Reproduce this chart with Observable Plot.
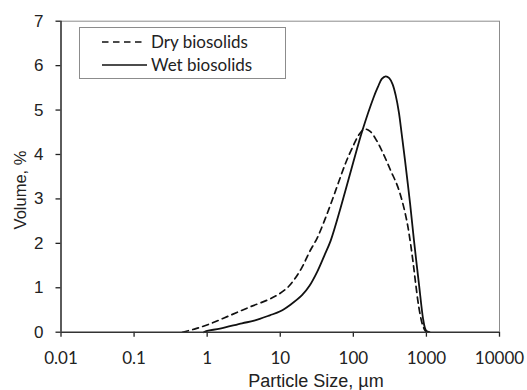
<!DOCTYPE html>
<html>
<head>
<meta charset="utf-8">
<script src="https://cdn.jsdelivr.net/npm/d3@7"></script>
<script src="https://cdn.jsdelivr.net/npm/@observablehq/plot@0.6"></script>
<style>
  html, body { margin: 0; padding: 0; background: #fff; }
  #chart svg { display: block; background: #fff; }
</style>
</head>
<body>
<div id="chart"></div>
<script>
// Particle size (µm) and volume (%)
const drySize = [0.46, 0.7, 1.1, 1.7, 2.6, 4, 6.6, 9, 12.5, 15.8, 20, 25, 32, 40, 50, 63, 79, 100, 120, 143, 170, 209, 260, 324, 400, 468, 540, 596, 660, 712, 790, 880, 950, 1000];
const dryVol  = [0, 0.08, 0.19, 0.32, 0.45, 0.58, 0.72, 0.83, 1.0, 1.2, 1.47, 1.8, 2.12, 2.5, 2.92, 3.38, 3.82, 4.2, 4.45, 4.57, 4.52, 4.31, 4.0, 3.64, 3.3, 2.94, 2.5, 2.08, 1.55, 1.1, 0.55, 0.18, 0.05, 0];
const wetSize = [0.9, 1, 1.5, 3, 4.4, 7.2, 10, 13.8, 20, 25, 32, 40, 49, 67, 78, 100, 133, 191, 217, 245, 277, 310, 345, 380, 420, 460, 510, 600, 676, 790, 900, 960, 1000, 1100];
const wetVol  = [0, 0.03, 0.08, 0.2, 0.26, 0.38, 0.47, 0.62, 0.84, 1.04, 1.36, 1.72, 2.06, 2.8, 3.19, 3.83, 4.54, 5.3, 5.52, 5.7, 5.76, 5.72, 5.58, 5.33, 4.95, 4.45, 3.86, 2.87, 2.06, 1.09, 0.3, 0.08, 0.03, 0];
const seriesNames = ["Dry biosolids", "Wet biosolids"];
const xTicks = [0.01, 0.1, 1, 10, 100, 1000, 10000];
const xTickLabels = ["0.01", "0.1", "1", "10", "100", "1000", "10000"];
const yTicks = [0, 1, 2, 3, 4, 5, 6, 7];
const xLabel = "Particle Size, µm";
const yLabel = "Volume, %";

const dry = drySize.map((s, i) => ({size: s, vol: dryVol[i]}));
const wet = wetSize.map((s, i) => ({size: s, vol: wetVol[i]}));

const W = 527, H = 390;
const mL = 60.5, mR = 28, mT = 20.7, mB = 58.3;

const plot = Plot.plot({
  width: W,
  height: H,
  marginLeft: mL,
  marginRight: mR,
  marginTop: mT,
  marginBottom: mB,
  style: {background: "#fff"},
  x: {type: "log", domain: [0.01, 10000]},
  y: {domain: [0, 7]},
  marks: [
    Plot.ruleY([7], {stroke: "#8c8c8c", strokeWidth: 1}),
    Plot.ruleX([10000], {stroke: "#8c8c8c", strokeWidth: 1}),
    Plot.axisX({
      ticks: xTicks,
      tickFormat: d => xTickLabels[xTicks.indexOf(d)],
      tickSize: 5,
      tickPadding: 15,
      stroke: "#222",
      strokeWidth: 1.3,
      fontSize: 17,
      fontFamily: "Lato",
      fill: "#222",
      label: null
    }),
    Plot.axisY({
      ticks: yTicks,
      tickFormat: d => String(d),
      tickSize: 5,
      tickPadding: 12.5,
      stroke: "#222",
      strokeWidth: 1.3,
      fontSize: 17,
      fontFamily: "Liberation Sans",
      fill: "#222",
      label: null
    }),
    Plot.line(dry, {x: "size", y: "vol", curve: "catmull-rom", stroke: "#111", strokeWidth: 1.7, strokeDasharray: "6,4.5"}),
    Plot.line(wet, {x: "size", y: "vol", curve: "catmull-rom", stroke: "#111", strokeWidth: 1.8}),
    Plot.ruleX([0.01], {stroke: "#333", strokeWidth: 1.6}),
    Plot.ruleY([0], {stroke: "#333", strokeWidth: 1.6})
  ]
});

document.getElementById("chart").appendChild(plot);

// Axis titles and legend
const svg = d3.select(plot);
svg.append("text")
  .attr("x", 316).attr("y", 387)
  .attr("text-anchor", "middle")
  .attr("font-family", "Liberation Sans")
  .attr("font-size", 18)
  .attr("fill", "#222")
  .text(xLabel);
svg.append("text")
  .attr("transform", "translate(26,190) rotate(-90)")
  .attr("text-anchor", "middle")
  .attr("font-family", "Liberation Sans")
  .attr("font-size", 16.5)
  .attr("fill", "#222")
  .text(yLabel);

const lg = svg.append("g");
lg.append("rect")
  .attr("x", 79.5).attr("y", 27.5).attr("width", 206).attr("height", 51)
  .attr("fill", "#fff").attr("stroke", "#8c8c8c").attr("stroke-width", 1);
const rows = [{y: 42, dash: "6.5,4.5", x2: 143}, {y: 65, dash: null, x2: 147}];
rows.forEach((r, i) => {
  const ln = lg.append("line")
    .attr("x1", 102).attr("x2", r.x2).attr("y1", r.y).attr("y2", r.y)
    .attr("stroke", "#111").attr("stroke-width", 1.7);
  if (r.dash) ln.attr("stroke-dasharray", r.dash);
  lg.append("text")
    .attr("x", 151).attr("y", r.y + 5.5)
    .attr("text-anchor", "start")
    .attr("font-family", "Lato")
    .attr("font-size", 17)
    .attr("fill", "#222")
    .text(seriesNames[i]);
});
</script>
</body>
</html>
